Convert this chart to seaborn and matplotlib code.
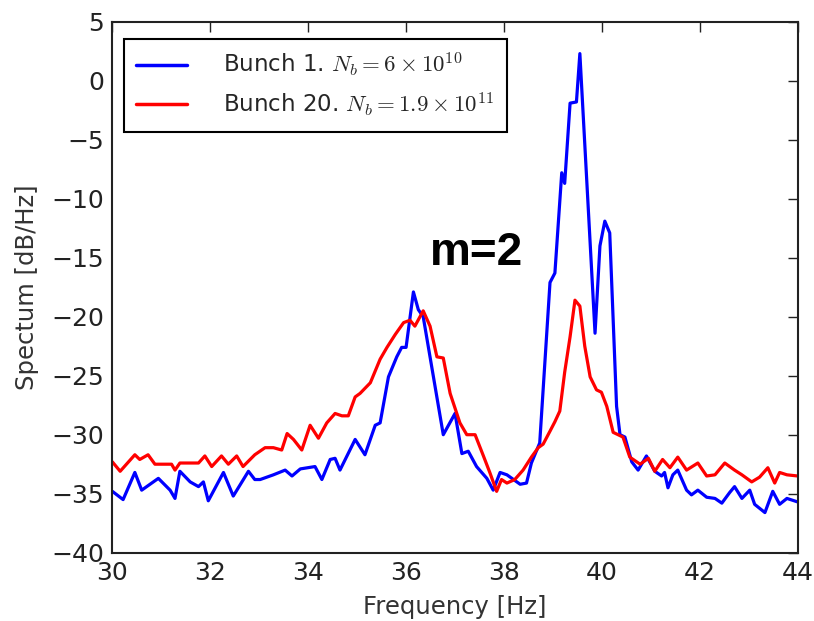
import numpy as np
import pandas as pd
import matplotlib
matplotlib.use("Agg")
import matplotlib.pyplot as plt
import seaborn as sns

# ---- data ----
freq_b1 = [30.00, 30.22, 30.46, 30.60, 30.94, 31.18, 31.28, 31.38, 31.59, 31.76, 31.86, 31.96,
           32.27, 32.47, 32.78, 32.91, 33.02, 33.29, 33.53, 33.67, 33.84, 34.14, 34.28, 34.45,
           34.55, 34.65, 34.96, 35.16, 35.37, 35.47, 35.64, 35.81, 35.91, 36.00, 36.15, 36.25,
           36.35, 36.76, 37.00, 37.14, 37.27, 37.44, 37.65, 37.78, 37.92, 38.06, 38.33, 38.46,
           38.56, 38.73, 38.94, 39.04, 39.18, 39.24, 39.35, 39.48, 39.55, 39.86, 39.96, 40.06,
           40.16, 40.30, 40.37, 40.47, 40.61, 40.74, 40.91, 41.08, 41.22, 41.28, 41.35, 41.45,
           41.55, 41.73, 41.83, 41.96, 42.14, 42.31, 42.45, 42.61, 42.71, 42.86, 43.02, 43.12,
           43.33, 43.49, 43.63, 43.78, 44.00]
spec_b1 = [-34.8, -35.5, -33.2, -34.7, -33.7, -34.7, -35.4, -33.1, -34.0, -34.4, -34.0, -35.6,
           -33.2, -35.2, -33.1, -33.8, -33.8, -33.4, -33.0, -33.5, -32.9, -32.7, -33.8, -32.1,
           -32.0, -33.0, -30.4, -31.7, -29.2, -29.0, -25.1, -23.4, -22.6, -22.6, -17.9, -19.4,
           -20.0, -30.0, -28.2, -31.6, -31.4, -32.7, -33.7, -34.7, -33.2, -33.4, -34.2, -34.1,
           -32.4, -30.7, -17.1, -16.3, -7.8, -8.7, -1.9, -1.8, 2.3, -21.4, -14.0, -11.9,
           -12.9, -27.6, -30.0, -30.2, -32.3, -33.0, -31.8, -33.1, -33.5, -33.2, -34.5, -33.4,
           -33.0, -34.7, -35.1, -34.7, -35.3, -35.4, -35.8, -34.9, -34.4, -35.4, -34.7, -35.9,
           -36.6, -34.8, -35.9, -35.4, -35.7]

freq_b20 = [30.00, 30.16, 30.46, 30.56, 30.73, 30.87, 31.21, 31.28, 31.38, 31.76, 31.89, 32.03,
            32.23, 32.37, 32.54, 32.67, 32.91, 33.12, 33.29, 33.46, 33.57, 33.70, 33.87, 34.04,
            34.21, 34.38, 34.55, 34.69, 34.82, 34.96, 35.06, 35.27, 35.47, 35.61, 35.78, 35.95,
            36.08, 36.18, 36.35, 36.49, 36.63, 36.76, 36.90, 37.10, 37.24, 37.41, 37.58, 37.71,
            37.85, 37.95, 38.06, 38.22, 38.39, 38.56, 38.70, 38.80, 38.94, 39.04, 39.14, 39.24,
            39.35, 39.45, 39.55, 39.65, 39.76, 39.89, 39.99, 40.10, 40.23, 40.43, 40.57, 40.78,
            40.95, 41.08, 41.24, 41.39, 41.55, 41.73, 41.96, 42.14, 42.31, 42.51, 42.71, 42.86,
            43.06, 43.22, 43.39, 43.53, 43.63, 43.78, 44.00]
spec_b20 = [-32.3, -33.1, -31.7, -32.1, -31.7, -32.5, -32.5, -33.0, -32.4, -32.4, -31.8, -32.7,
            -31.8, -32.5, -31.8, -32.7, -31.7, -31.1, -31.1, -31.3, -29.9, -30.4, -31.3, -29.2,
            -30.3, -29.0, -28.2, -28.4, -28.4, -26.8, -26.5, -25.6, -23.6, -22.6, -21.5, -20.5,
            -20.3, -20.8, -19.5, -20.8, -23.4, -23.5, -26.5, -29.0, -30.0, -30.0, -31.8, -33.2,
            -34.8, -33.8, -34.1, -33.8, -33.0, -31.9, -31.1, -30.8, -29.7, -28.9, -28.0, -24.7,
            -21.7, -18.6, -19.1, -22.5, -25.1, -26.2, -26.4, -27.6, -29.8, -30.2, -31.9, -32.5,
            -32.0, -33.1, -32.1, -32.8, -31.9, -33.0, -32.4, -33.5, -33.4, -32.4, -33.0, -33.4,
            -34.0, -33.6, -32.8, -34.1, -33.2, -33.4, -33.5]

label_b1 = r"Bunch 1. $N_b = 6\times10^{10}$"
label_b20 = r"Bunch 20. $N_b = 1.9\times10^{11}$"
x_ticks = [30, 32, 34, 36, 38, 40, 42, 44]
y_ticks = [-40, -35, -30, -25, -20, -15, -10, -5, 0, 5]
annotation = "m=2"

df = pd.concat([
    pd.DataFrame({"freq": freq_b1, "spec": spec_b1, "series": label_b1}),
    pd.DataFrame({"freq": freq_b20, "spec": spec_b20, "series": label_b20}),
], ignore_index=True)

sns.set_style("white")
plt.rcParams["font.family"] = ["DejaVu Sans"]
plt.rcParams["mathtext.fontset"] = "cm"

fig = plt.figure(figsize=(8.14, 6.21), dpi=100)
ax = fig.add_axes([0.138, 0.11, 0.842, 0.855])

sns.lineplot(data=df, x="freq", y="spec", hue="series",
             palette={label_b1: "#0000ff", label_b20: "#ff0000"},
             linewidth=2.3, ax=ax, legend=True, estimator=None, sort=False)

ax.set_xlim(30, 44)
ax.set_ylim(-40, 5)
ax.set_xticks(x_ticks)
ax.set_yticks(y_ticks)
ax.set_yticklabels([("\u2212" + str(-t)) if t < 0 else str(t) for t in y_ticks])
ax.tick_params(direction="in", length=7, width=1, top=True, right=True,
               labelsize=18, colors="#222222", pad=6)
for s in ax.spines.values():
    s.set_color("#222222")
    s.set_linewidth(1.5)
    s.set_visible(True)

ax.set_xlabel("Frequency [Hz]", fontsize=17.5, color="#333333", labelpad=7)
ax.set_ylabel("Spectum [dB/Hz]", fontsize=17.5, color="#333333", labelpad=9)

ax.text(36.49, -15.6, annotation, fontsize=33, fontweight="bold",
        family=["Liberation Sans", "DejaVu Sans"], ha="left", va="baseline", color="black")

handles, labels = ax.get_legend_handles_labels()
leg = ax.legend(handles, labels, loc="upper left", fontsize=16.5, frameon=True,
                fancybox=False, edgecolor="black", framealpha=1, handlelength=2.2,
                borderpad=0.55, labelspacing=0.5, handletextpad=1.6,
                bbox_to_anchor=(0.0, 0.99))
leg.get_frame().set_linewidth(1.5)
for line in leg.get_lines():
    line.set_linewidth(2.5)

fig.savefig("out.png", dpi=100)
